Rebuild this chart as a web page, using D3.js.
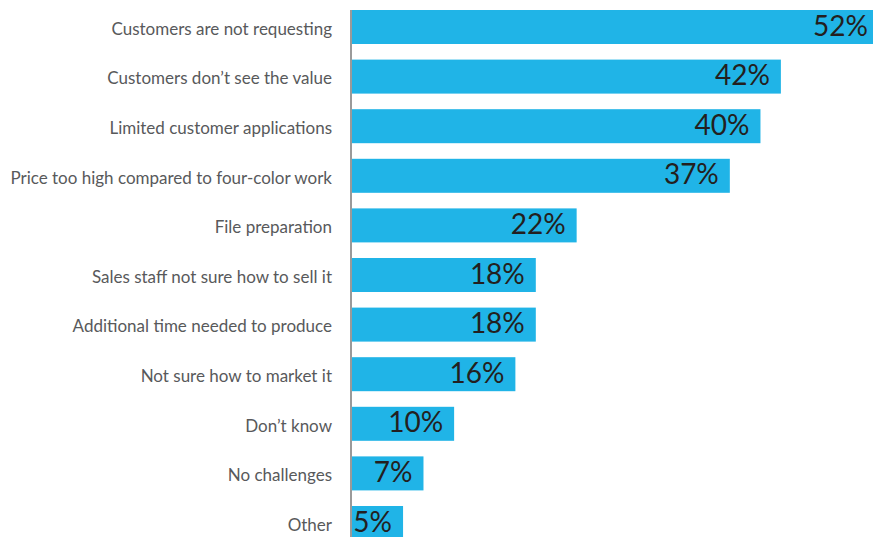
<!DOCTYPE html>
<html>
<head>
<meta charset="utf-8">
<script src="https://cdn.jsdelivr.net/npm/d3@7"></script>
<style>
  html, body { margin: 0; padding: 0; background: #fff; }
  svg { display: block; }
</style>
</head>
<body>
<svg id="chart" width="873" height="537"></svg>
<script>
// Challenges reported, share of respondents
const categories = [
  "Customers are not requesting",
  "Customers don\u2019t see the value",
  "Limited customer applications",
  "Price too high compared to four-color work",
  "File preparation",
  "Sales staff not sure how to sell it",
  "Additional time needed to produce",
  "Not sure how to market it",
  "Don\u2019t know",
  "No challenges",
  "Other"
];
const values = [52, 42, 40, 37, 22, 18, 18, 16, 10, 7, 5];
const valueLabels = values.map(v => v + "%");

const W = 873, H = 537;
const axisX = 352;
const svg = d3.select("#chart");

const x = d3.scaleLinear().domain([0, 52]).range([axisX, axisX + 531]);
const y = d3.scaleBand().domain(categories)
  .range([10, 10 + 49.6 * 10 + 34])
  .paddingInner((49.6 - 34) / 49.6)
  .paddingOuter(0);

// bars
svg.append("g").selectAll("rect")
  .data(values)
  .join("rect")
  .attr("x", x(0))
  .attr("y", (d, i) => y(categories[i]))
  .attr("width", d => x(d) - x(0))
  .attr("height", y.bandwidth())
  .attr("fill", "#20b4e7");

// vertical baseline
svg.append("line")
  .attr("x1", axisX - 1).attr("x2", axisX - 1)
  .attr("y1", 10).attr("y2", H)
  .attr("stroke", "#9a9a9a").attr("stroke-width", 2);

// category labels
svg.append("g").selectAll("text")
  .data(categories)
  .join("text")
  .attr("x", 332)
  .attr("y", d => y(d) + y.bandwidth() / 2 + 3.5)
  .attr("text-anchor", "end")
  .attr("dominant-baseline", "middle")
  .attr("font-family", "Lato, 'Open Sans', sans-serif")
  .attr("font-size", 17)
  .attr("fill", "#58595b")
  .text(d => d);

// value labels inside bars
svg.append("g").selectAll("text")
  .data(values)
  .join("text")
  .attr("x", d => Math.min(x(d), W + 6) - 11)
  .attr("y", (d, i) => y(categories[i]) + y.bandwidth() / 2 + 1.5)
  .attr("text-anchor", "end")
  .attr("dominant-baseline", "middle")
  .attr("font-family", "Lato, 'Open Sans', sans-serif")
  .attr("font-size", 28)
  .attr("fill", "#231f20")
  .text((d, i) => valueLabels[i]);
</script>
</body>
</html>
